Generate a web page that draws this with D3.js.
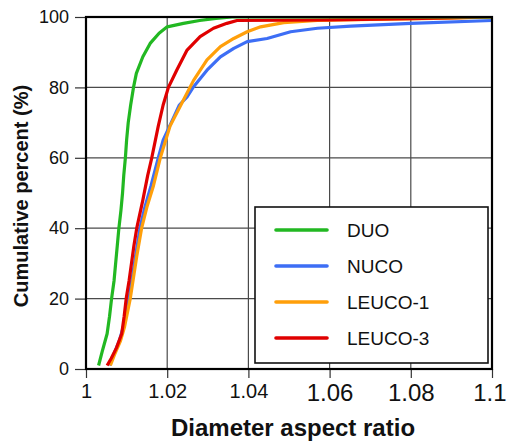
<!DOCTYPE html>
<html>
<head>
<meta charset="utf-8">
<script src="https://cdn.jsdelivr.net/npm/d3@7"></script>
<style>
  body { margin: 0; background: #fff; }
  svg { display: block; font-family: "Liberation Sans", Arial, sans-serif; }
</style>
</head>
<body>
<svg id="chart" width="507" height="442"></svg>
<script>
// data: [aspect ratio, cumulative %]
const duo = [[1.0031,1],[1.0040,5],[1.0052,10],[1.0058,15],[1.0063,20],[1.0069,25],[1.0073,30],[1.0077,35],[1.0081,40],[1.0086,45],[1.0090,50],[1.0093,55],[1.0097,60],[1.0100,65],[1.0104,70],[1.0110,75],[1.0117,80],[1.0124,84],[1.0140,88.7],[1.0158,92.5],[1.0180,95.4],[1.0200,97.2],[1.0240,98.2],[1.0280,99],[1.0320,99.6],[1.0360,100],[1.1,100]];
const nuco = [[1.0058,1],[1.0068,4],[1.0082,8],[1.0092,12],[1.0100,16],[1.0106,20],[1.0114,26],[1.0122,32],[1.0133,40],[1.0145,46],[1.0160,52],[1.0178,60],[1.0190,65],[1.0210,70],[1.0230,75],[1.0249,77.3],[1.0265,80.2],[1.0298,84.9],[1.0331,88.7],[1.0364,91.1],[1.0397,93],[1.0446,93.9],[1.0504,95.8],[1.0570,96.8],[1.0652,97.4],[1.0800,98.2],[1.1,99]];
const leuco1 = [[1.0060,1],[1.0070,4],[1.0085,8],[1.0095,12],[1.0102,16],[1.0109,20],[1.0117,26],[1.0125,32],[1.0137,40],[1.0150,46],[1.0166,52],[1.0183,60],[1.0207,69],[1.0240,76.4],[1.0265,82],[1.0298,87.8],[1.0331,91.6],[1.0364,93.9],[1.0397,95.8],[1.0430,97.2],[1.0487,98.4],[1.0570,99],[1.0700,99.3],[1.0900,99.7],[1.1,100]];
const leuco3 = [[1.0052,1],[1.0062,3],[1.0075,6],[1.0088,10],[1.0094,15],[1.0099,20],[1.0106,25],[1.0112,30],[1.0118,35],[1.0125,40],[1.0140,48],[1.0152,55],[1.0162,60],[1.0178,69],[1.0190,75],[1.0203,80],[1.0224,85],[1.0249,90.6],[1.0281,94.4],[1.0314,96.8],[1.0347,98.2],[1.0372,99],[1.0600,99.2],[1.0800,99.5],[1.1,100]];

const seriesNames = ["DUO", "NUCO", "LEUCO-1", "LEUCO-3"];
const seriesData = [duo, nuco, leuco1, leuco3];
const colors = ["#22b822", "#3d6ef5", "#ff9f0a", "#e00000"];

const xTicks = [1, 1.02, 1.04, 1.06, 1.08, 1.1];
const xTickLabels = ["1", "1.02", "1.04", "1.06", "1.08", "1.1"];
const yTicks = [0, 20, 40, 60, 80, 100];

const svg = d3.select("#chart");
const margin = {top: 17, right: 15, bottom: 73, left: 86};
const width = 507 - margin.left - margin.right;
const height = 442 - margin.top - margin.bottom;

const chart = svg.append("g")
    .attr("transform", `translate(${margin.left},${margin.top})`);

const x = d3.scaleLinear().domain([1, 1.1]).range([0, width]);
const y = d3.scaleLinear().domain([0, 100]).range([height, 0]);

// grid
chart.append("g")
    .selectAll("line.gx")
    .data(xTicks.slice(1, -1))
    .join("line")
    .attr("x1", d => x(d)).attr("x2", d => x(d))
    .attr("y1", 0).attr("y2", height)
    .attr("stroke", "#4a4a4a").attr("stroke-width", 1.2);
chart.append("g")
    .selectAll("line.gy")
    .data(yTicks.slice(1, -1))
    .join("line")
    .attr("x1", 0).attr("x2", width)
    .attr("y1", d => y(d)).attr("y2", d => y(d))
    .attr("stroke", "#4a4a4a").attr("stroke-width", 1.2);

// axes
const xAxis = chart.append("g")
    .attr("transform", `translate(0,${height})`)
    .call(d3.axisBottom(x).tickValues(xTicks).tickFormat((d, i) => xTickLabels[i]).tickSize(9).tickPadding(6));
xAxis.selectAll("text")
    .style("font-size", d => d > 1.05 ? "24px" : "20px")
    .attr("fill", "#111");
// last label would run past the window edge, pin its right side instead
xAxis.selectAll(".tick text").filter(d => d === 1.1)
    .attr("text-anchor", "end").attr("dx", 14);

const yAxis = chart.append("g")
    .call(d3.axisLeft(y).tickValues(yTicks).tickSize(11).tickPadding(6));
yAxis.selectAll("text").style("font-size", "18px").attr("fill", "#111");

[xAxis, yAxis].forEach(a => {
    a.select(".domain").remove();
    a.selectAll(".tick line").attr("stroke", "#333").attr("stroke-width", 1.2);
});

// lines
chart.append("clipPath").attr("id", "clip")
    .append("rect").attr("x", 0).attr("y", -1).attr("width", width).attr("height", height + 1);

const line = d3.line()
    .x(d => x(d[0]))
    .y(d => y(d[1]));

const drawOrder = [1, 2, 3, 0];
chart.append("g").attr("clip-path", "url(#clip)")
    .selectAll("path")
    .data(drawOrder)
    .join("path")
    .attr("fill", "none")
    .attr("stroke", i => colors[i])
    .attr("stroke-width", 3.2)
    .attr("stroke-linejoin", "round")
    .attr("d", i => line(seriesData[i]));

// frame
chart.append("rect")
    .attr("width", width).attr("height", height)
    .attr("fill", "none").attr("stroke", "#000").attr("stroke-width", 2.2);

// legend
const legend = chart.append("g").attr("transform", `translate(${255 - margin.left},${207 - margin.top})`);
legend.append("rect")
    .attr("width", 233).attr("height", 156)
    .attr("fill", "#fff").attr("stroke", "#111").attr("stroke-width", 1.6);
const items = legend.selectAll("g.item")
    .data(seriesNames)
    .join("g")
    .attr("transform", (d, i) => `translate(0,${23 + i * 36})`);
items.append("line")
    .attr("x1", 21).attr("x2", 72)
    .attr("stroke", (d, i) => colors[i]).attr("stroke-width", 3.6)
    .attr("stroke-linecap", "round");
items.append("text")
    .attr("x", 92).attr("y", 7)
    .style("font-size", "19px")
    .attr("fill", "#111")
    .text(d => d);

// axis titles
svg.append("text")
    .attr("x", 293).attr("y", 436)
    .attr("text-anchor", "middle")
    .style("font-size", "24px").style("font-weight", "bold")
    .attr("fill", "#111")
    .text("Diameter aspect ratio");

svg.append("text")
    .attr("transform", "translate(28,196) rotate(-90)")
    .attr("text-anchor", "middle")
    .style("font-size", "20px").style("font-weight", "bold")
    .attr("fill", "#111")
    .text("Cumulative percent (%)");
</script>
</body>
</html>
